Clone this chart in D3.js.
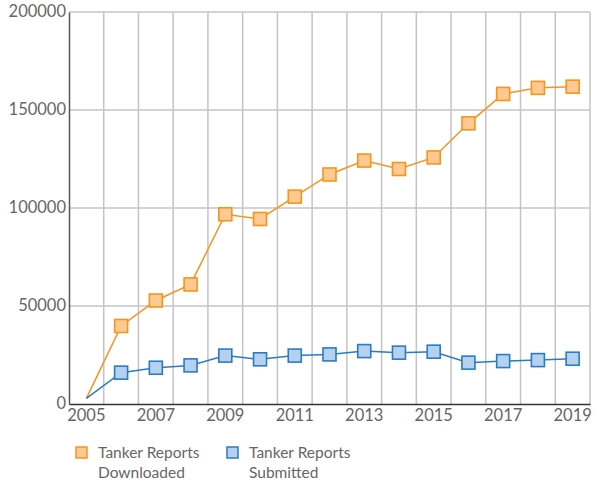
<!DOCTYPE html>
<html><head><meta charset="utf-8">
<script src="https://cdn.jsdelivr.net/npm/d3@7"></script>
<style>body{margin:0;background:#fff}svg{display:block}</style>
</head><body>
<svg id="c" width="595" height="484"></svg>
<script>
const years = [2005,2006,2007,2008,2009,2010,2011,2012,2013,2014,2015,2016,2017,2018,2019];
const downloaded = [2900,39800,52800,61000,96800,94400,105800,117100,124200,119900,125800,143200,158200,161300,161900];
const submitted = [2900,16000,18500,19700,24700,22800,24700,25300,27000,26200,26700,21100,21900,22400,23100];
const yTicks = [0,50000,100000,150000,200000];
const xTickLabels = [2005,2007,2009,2011,2013,2015,2017,2019];
const seriesNames = ["Tanker Reports Downloaded","Tanker Reports Submitted"];

const svg = d3.select("#c");
const L=69, R=590, T=12, B=404;
const x = d3.scaleBand().domain(years).range([L,R]).padding(0);
const y = d3.scaleLinear().domain([0,200000]).range([B,T]);
const font = "Lato, 'Open Sans', sans-serif";
const cx = d => x(d)+x.bandwidth()/2;

const bounds = years.map(d=>x(d)+x.bandwidth());
svg.append("g").selectAll("line").data(bounds).join("line")
  .attr("x1",d=>d).attr("x2",d=>d).attr("y1",T).attr("y2",B)
  .attr("stroke","#c4c4c4").attr("stroke-width",1.5);
svg.append("g").selectAll("line").data(yTicks.filter(t=>t>0)).join("line")
  .attr("x1",L).attr("x2",R).attr("y1",d=>y(d)).attr("y2",d=>y(d))
  .attr("stroke","#c4c4c4").attr("stroke-width",1.5);

const yAxis = svg.append("g").attr("transform",`translate(${L},0)`)
  .call(d3.axisLeft(y).tickValues(yTicks).tickSize(0).tickPadding(3).tickFormat(d3.format("d")));
yAxis.select(".domain").attr("stroke","#555").attr("stroke-width",1.5);
yAxis.selectAll("text").attr("font-family",font).attr("font-size",16.5).attr("fill","#666").attr("dy","0.3em");

const xAxis = svg.append("g").attr("transform",`translate(0,${B})`)
  .call(d3.axisBottom(x).tickValues(xTickLabels).tickSize(0).tickPadding(5).tickFormat(d3.format("d")));
xAxis.select(".domain").attr("stroke","#333").attr("stroke-width",1.5);
xAxis.selectAll("text").attr("font-family",font).attr("font-size",16.5).attr("fill","#666").attr("dy","0.75em");

const series = [
  {name:seriesNames[0], values:downloaded, stroke:"#f7941d", fill:"#ffc992"},
  {name:seriesNames[1], values:submitted, stroke:"#2b7bc4", fill:"#b4d2f0"}
];
const line = d3.line().x((d,i)=>cx(years[i])).y(d=>y(d));
const m = 13;
series.forEach(s=>{
  svg.append("path").attr("d",line(s.values)).attr("fill","none")
    .attr("stroke",s.stroke).attr("stroke-width",1.5);
  const pts = s.values.map((v,i)=>({year:years[i],v})).slice(1);
  svg.append("g").selectAll("rect").data(pts).join("rect")
    .attr("x",d=>cx(d.year)-m/2).attr("y",d=>y(d.v)-m/2)
    .attr("width",m).attr("height",m)
    .attr("fill",s.fill).attr("stroke",s.stroke).attr("stroke-width",1.6);
});

const lg = svg.append("g");
const lx = [76,227];
series.forEach((s,i)=>{
  lg.append("rect").attr("x",lx[i]).attr("y",447).attr("width",11).attr("height",11)
    .attr("fill",s.fill).attr("stroke",s.stroke).attr("stroke-width",1.5);
  const words = s.name.split(" ");
  const t = lg.append("text").attr("font-family",font).attr("font-size",15.5).attr("fill","#666");
  t.append("tspan").attr("x",lx[i]+22).attr("y",458).text(words.slice(0,2).join(" "));
  t.append("tspan").attr("x",lx[i]+22).attr("y",478).text(words.slice(2).join(" "));
});
</script>
</body></html>
